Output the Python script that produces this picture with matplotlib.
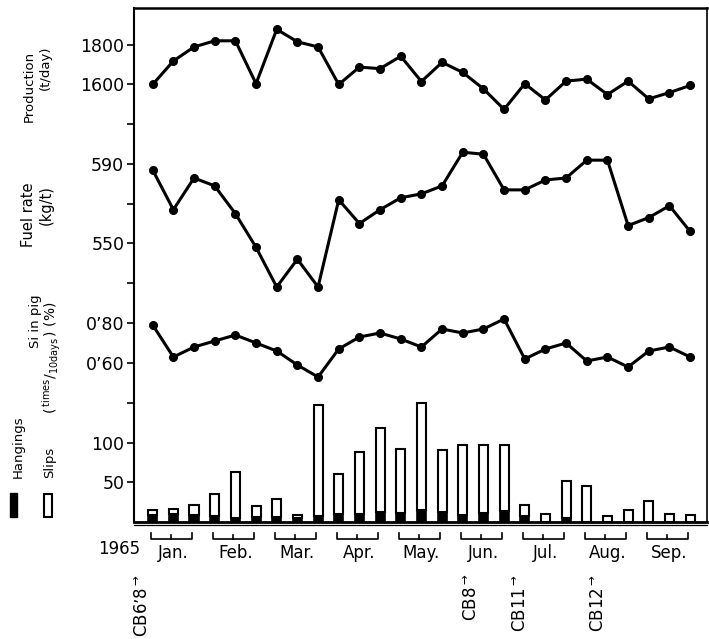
import matplotlib.pyplot as plt
from matplotlib.patches import Rectangle

W, H = 709, 639

# ten-day periods, Jan. to Sep. 1965
periods = list(range(27))
months = ['Jan.', 'Feb.', 'Mar.', 'Apr.', 'May.', 'Jun.', 'Jul.', 'Aug.', 'Sep.']

production = [1600, 1719, 1790, 1821, 1821, 1604, 1879, 1816, 1790, 1600, 1688, 1680, 1743, 1615,
              1712, 1661, 1578, 1474, 1604, 1522, 1617, 1627, 1549, 1617, 1527, 1559, 1595]
fuel_rate = [587, 567, 583, 579, 565, 548, 528, 542, 528, 572, 560, 567, 573, 575,
             579, 596, 595, 577, 577, 582, 583, 592, 592, 559, 563, 569, 556]
si_in_pig = [0.79, 0.63, 0.68, 0.71, 0.74, 0.70, 0.66, 0.59, 0.53, 0.67, 0.73, 0.75, 0.72, 0.68,
             0.77, 0.75, 0.77, 0.82, 0.62, 0.67, 0.70, 0.61, 0.63, 0.58, 0.66, 0.68, 0.63]
hangings = [8, 10, 8, 7, 5, 6, 6, 4, 7, 10, 9, 12, 11, 15, 12, 8, 11, 13, 7, 0, 5, 0, 0, 0, 0, 0, 0]
slips = [7, 6, 13, 28, 58, 13, 23, 4, 140, 50, 79, 106, 81, 135, 79, 89, 86, 84, 14, 9, 46, 45,
         7, 14, 26, 10, 8]

cb_labels = ["CB6’8", "CB8", "CB11", "CB12"]
cb_pos = [-0.47, 15.45, 17.8, 21.6]


def box(x0, y0, x1, y1):
    return [x0 / W, 1 - y1 / H, (x1 - x0) / W, (y1 - y0) / H]


fig = plt.figure(figsize=(W / 100, H / 100), dpi=100)

XL, XR = 134, 707
xlim = ((XL - 152.7) / 20.67, (XR - 152.7) / 20.67)

# outer frame
frame = fig.add_axes(box(XL, 8, XR, 521.5))
frame.set_xlim(xlim)
frame.set_ylim(0, 1)
frame.set_xticks([])
frame.set_yticks([])
frame.spines['top'].set_linewidth(1.8)
frame.spines['left'].set_linewidth(1.5)
frame.spines['right'].set_linewidth(1.2)
frame.spines['bottom'].set_linewidth(2.0)
frame.axhline(-0.006, color='black', lw=0.9, clip_on=False)


def panel(y0, y1, ylim, ticks, labels):
    ax = fig.add_axes(box(XL, y0, XR, y1))
    ax.patch.set_visible(False)
    for s in ax.spines.values():
        s.set_visible(False)
    ax.set_xlim(xlim)
    ax.set_ylim(ylim)
    ax.set_xticks([])
    ax.set_yticks(ticks)
    ax.set_yticklabels(labels)
    ax.tick_params(axis='y', direction='out', length=5, width=1.2, labelsize=12.5, pad=2)
    return ax


ax_p = panel(8, 124, (1400, 1987), [1400, 1600, 1800], ['', '1600', '1800'])
ax_f = panel(124, 290, (526.46, 610.25), [530, 550, 570, 590], ['', '550', '', '590'])
ax_s = panel(290, 403, (0.40, 0.965), [0.6, 0.8], ['0’60', '0’80'])
ax_b = panel(403, 521.5, (0, 150), [50, 100, 150], ['50', '100', ''])

for ax, vals in [(ax_p, production), (ax_f, fuel_rate), (ax_s, si_in_pig)]:
    ax.plot(periods, vals, '-o', color='black', lw=2.2, ms=5.5, clip_on=False)

ax_b.bar(periods, hangings, width=0.44, color='black', edgecolor='black', lw=1.2)
ax_b.bar(periods, slips, bottom=hangings, width=0.44, facecolor='white',
         edgecolor='black', lw=1.5, clip_on=False)

# month brackets and labels under the axis
tr = frame.get_xaxis_transform()


def yax(ypix):
    return (521.5 - ypix) / 513.5


for m, name in enumerate(months):
    a, b, c = 3 * m - 0.1, 3 * m + 0.9, 3 * m + 1.9
    frame.plot([a, a, c, c], [yax(533), yax(539), yax(539), yax(533)], color='black',
               lw=1.2, transform=tr, clip_on=False)
    frame.plot([b, b], [yax(535), yax(539)], color='black', lw=1.2, transform=tr, clip_on=False)
    frame.text(3 * m + 1, yax(553), name, transform=tr, ha='center', va='center', fontsize=12)

frame.text(-0.6, yax(549), '1965', transform=tr, ha='right', va='center', fontsize=12)

for lab, pos in zip(cb_labels, cb_pos):
    frame.text(pos, yax(574), lab + r'$^{\rightarrow}$', transform=tr, rotation=90,
               ha='center', va='top', fontsize=12)

# left side labels
def ftext(x, y, s, size):
    fig.text(x / W, 1 - y / H, s, rotation=90, ha='center', va='center', fontsize=size)


ftext(29, 86.5, 'Production', 9.5)
ftext(45, 67.5, '(t/day)', 9.5)
ftext(28.5, 215, 'Fuel rate', 10.5)
ftext(46, 205, '(kg/t)', 10.5)
ftext(35, 321, 'Si in pig', 9.5)
ftext(52, 358, r'$(\,^{\mathrm{times}}/_{\mathrm{10days}}\,)$ (%)', 10)
ftext(18, 447, 'Hangings', 9.5)
ftext(50, 462, 'Slips', 9.5)

fig.patches.append(Rectangle((10 / W, 1 - 517 / H), 7 / W, 24 / H, transform=fig.transFigure,
                             facecolor='black', edgecolor='black'))
fig.patches.append(Rectangle((44 / W, 1 - 517 / H), 8 / W, 23 / H, transform=fig.transFigure,
                             facecolor='white', edgecolor='black', lw=1.5))

fig.savefig('out.png', dpi=100)
